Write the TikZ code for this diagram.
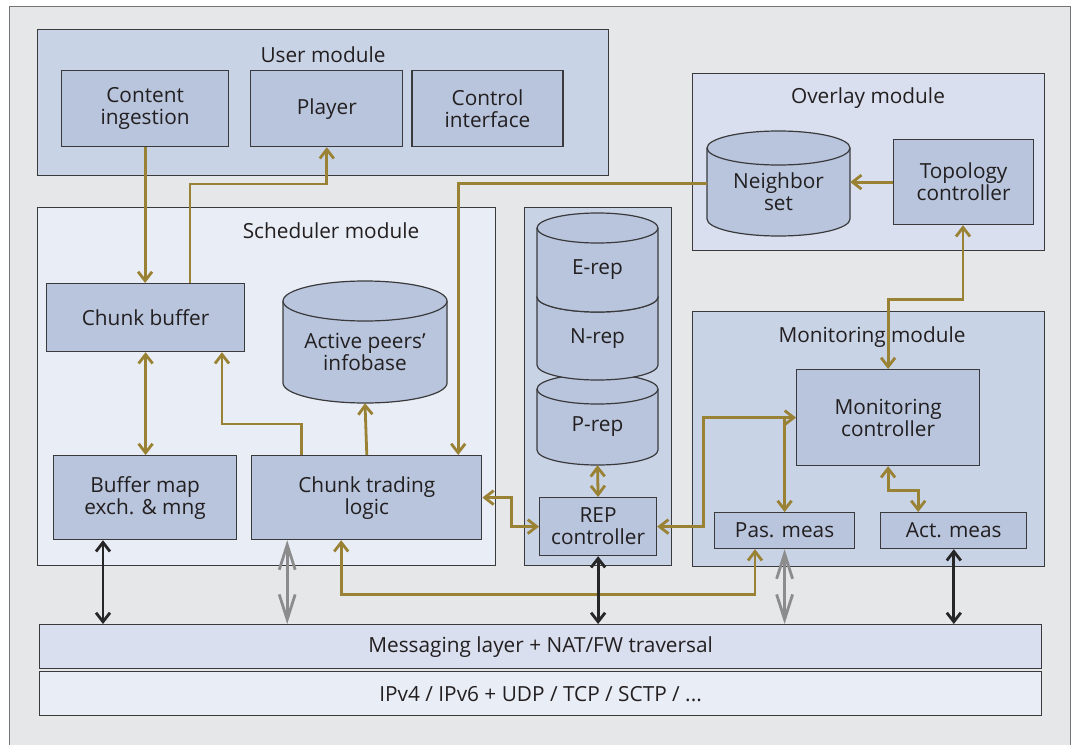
\documentclass[tikz,border=0pt]{standalone}
\usepackage{fontspec}
\setmainfont{Open Sans}
\usepackage{xcolor}
\definecolor{framegray}{HTML}{E6E7E9}
\definecolor{edgedark}{HTML}{3A3A3C}
\definecolor{modblue}{HTML}{C9D3E6}
\definecolor{modpale}{HTML}{E9EDF5}
\definecolor{modlight}{HTML}{D9DFEE}
\definecolor{boxblue}{HTML}{B8C5DD}
\definecolor{linkgold}{HTML}{9A8235}
\definecolor{wiregray}{HTML}{8C8C8C}
\definecolor{inkdark}{HTML}{231F20}
\usetikzlibrary{arrows.meta, shapes.geometric, positioning, calc}

% vertical drum: #1 name, #2 centre, #3 half width, #4 half height, #5 cap radius, #6 text
\newcommand\storecyl[6]{%
  \filldraw[storeline] ($(#2)+(-#3,-#4+#5)$) -- ++(0,2*#4-2*#5)
    arc[start angle=180, end angle=360, x radius=#3pt, y radius=#5pt]
    -- ++(0,-2*#4+2*#5)
    arc[start angle=0, end angle=180, x radius=#3pt, y radius=#5pt] -- cycle;
  \draw[storeline] ($(#2)+(-#3,-#4+#5)$)
    arc[start angle=180, end angle=360, x radius=#3pt, y radius=#5pt];
  \node[inner sep=0pt, minimum width={2*#3}, minimum height={2*#4},
        label={[yshift={-#5/2*1pt}]center:{#6}}] (#1) at (#2) {};
}

\begin{document}
\begin{tikzpicture}[x=1pt, y=-1pt,
  every node/.style={font=\fontsize{20.8}{22}\selectfont, text=inkdark, align=center},
  module/.style={draw=edgedark, line width=1.2pt, fill=modblue, anchor=north west, inner sep=0pt},
  block/.style={draw=edgedark, line width=1.2pt, fill=boxblue, anchor=north west, inner sep=0pt},
  storeline/.style={draw=edgedark, line width=1.2pt, fill=boxblue},
  link/.style={draw=linkgold, line width=2.8pt, >={Straight Barb[length=9pt,width=14pt]}},
  wire/.style={draw=black!85, line width=2.8pt, >={Straight Barb[length=9pt,width=14pt]}},
  tap/.style={draw=wiregray, line width=2.8pt, >={Straight Barb[length=25pt,width=16pt]}}]

  \useasboundingbox (0,0) rectangle (1075,744);
  \clip (0,0) rectangle (1075,744);
  \fill[white] (0,0) rectangle (1075,744);
  \draw[draw=edgedark!70, fill=framegray, line width=1pt] (9,6) rectangle (1070,770);

  % modules
  \node[module, minimum width=571pt, minimum height=146pt] (user) at (37,29) {};
  \node at (323,55) {User module};
  \node[module, fill=modpale, minimum width=458pt, minimum height=358pt] (sched) at (37,207) {};
  \node at (331,231) {Scheduler module};
  \node[module, minimum width=147pt, minimum height=358pt] (repcol) at (524,207) {};
  \node[module, fill=modlight, minimum width=352pt, minimum height=177pt] (overlay) at (692,73) {};
  \node at (868,98) {Overlay module};
  \node[module, minimum width=352pt, minimum height=255pt] (monitor) at (692,311) {};
  \node at (872,337) {Monitoring module};

  % user module
  \node[block, minimum width=167pt, minimum height=76pt] (content) at (61,70) {Content\\ingestion};
  \node[block, anchor=west, minimum width=152pt, minimum height=76pt, right=21pt of content] (player) {Player};
  \node[block, anchor=west, minimum width=151pt, minimum height=76pt, right=8pt of player] (control) {Control\\interface};

  % scheduler module
  \node[block, minimum width=198pt, minimum height=68pt] (chunkbuf) at (46,283) {Chunk buffer};
  \node[block, minimum width=183pt, minimum height=84pt] (bufmap) at (53,455) {Buffer map\\exch. \& mng};
  \node[block, anchor=west, minimum width=230pt, minimum height=84pt, right=14pt of bufmap] (trading) {Chunk trading\\logic};
  \storecyl{peers}{365,342}{82}{61}{20}{Active peers'\\infobase}

  % repositories, stacked from the bottom up
  \storecyl{prep}{597.5,419.5}{60.5}{45.5}{15}{P-rep}
  \storecyl{nrep}{597.5,331}{60.5}{49}{15}{N-rep}
  \storecyl{erep}{597.5,262.5}{60.5}{49.5}{15}{E-rep}
  \node[block, minimum width=117pt, minimum height=58pt] (repctrl) at (539,497) {REP\\controller};

  % overlay module
  \storecyl{neighbor}{778.5,183.5}{71.5}{52.5}{17}{Neighbor\\set}
  \node[block, minimum width=140pt, minimum height=85pt] (topo) at (893,139) {Topology\\controller};

  % monitoring module
  \node[block, minimum width=183pt, minimum height=96pt] (monctrl) at (796,369) {Monitoring\\controller};
  \node[block, minimum width=140pt, minimum height=36pt] (pas) at (714,512) {Pas. meas};
  \node[block, anchor=west, minimum width=146pt, minimum height=36pt, right=25pt of pas] (act) {Act. meas};

  % transport layers
  \node[block, fill=modlight, minimum width=1002pt, minimum height=44pt] (msg) at (39,624) {Messaging layer + NAT/FW traversal};
  \node[block, fill=modpale, anchor=north, minimum width=1002pt, minimum height=44pt, below=2pt of msg] (ip) {IPv4 / IPv6 + UDP / TCP / SCTP / ...};

  % chunk flows
  \draw[link,->] (content.south) -- (content.south |- chunkbuf.north);
  \draw[link,->] ([xshift=144pt]chunkbuf.north west) -- ++(0,-99) -| (player.south);
  \draw[link,<->] (chunkbuf.south) -- (chunkbuf.south |- bufmap.north);
  \draw[link,->] ([xshift=50pt]trading.north west) -- ++(0,-31) -| ([xshift=176pt]chunkbuf.south west);
  \draw[link,->] (trading.north) -- (peers.south);
  \draw[link,->] (neighbor.west) -| ([xshift=207pt]trading.north west);
  \draw[link,<->] (trading.east) -- ++(29,0) |- (repctrl.west);
  \draw[link,<->] (prep.south) -- (repctrl.north);
  \draw[link,<->] (repctrl.east) -- ++(46,0) |- (monctrl.west);
  \draw[link,->] (pas.north |- monctrl.west) -- (pas.north);
  \draw[link,<->] (monctrl.south) -- ++(0,24) -| ([xshift=38pt]act.north west);
  \draw[link,<->] ([xshift=90pt]trading.south west) -- ++(0,54) -| ([xshift=41pt]pas.south west);
  \draw[link,<->] ([xshift=70pt]topo.south west) -- ++(0,74) -| (monctrl.north);
  \draw[link,->] (topo.west) -- (topo.west -| neighbor.east);

  % links down to the messaging layer
  \coordinate (bmport) at ([xshift=50pt]bufmap.south west);
  \coordinate (trport) at ([xshift=36pt]trading.south west);
  \draw[wire,<->] (bmport) -- (bmport |- msg.north);
  \draw[wire,<->] (repctrl.south) -- (repctrl.south |- msg.north);
  \draw[wire,<->] (act.south) -- (act.south |- msg.north);
  \draw[tap,<->] (trport) -- (trport |- msg.north);
  \draw[tap,<->] (pas.south) -- (pas.south |- msg.north);
\end{tikzpicture}
\end{document}
